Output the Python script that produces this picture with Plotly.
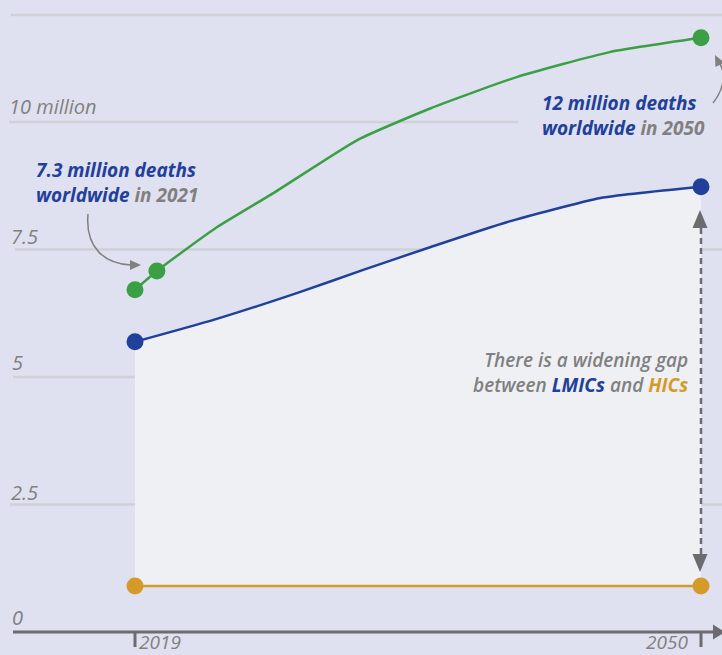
import plotly.graph_objects as go

# ---------------- data ----------------
green_years = [2019, 2020.2, 2023.5, 2026.6, 2031.2, 2035.2, 2039.9, 2045.0, 2050]
green_vals = [6.71, 7.08, 7.94, 8.61, 9.65, 10.27, 10.88, 11.37, 11.65]
green_marker_years = [2019, 2020.2, 2050]
green_marker_vals = [6.71, 7.08, 11.65]

blue_years = [2019, 2023.3, 2027.9, 2031.5, 2035.2, 2039.4, 2044.5, 2050]
blue_vals = [5.69, 6.12, 6.65, 7.10, 7.55, 8.04, 8.51, 8.73]
blue_marker_years = [2019, 2050]
blue_marker_vals = [5.69, 8.73]

gold_years = [2019, 2050]
gold_vals = [0.9, 0.9]

y_ticks = [0, 2.5, 5, 7.5, 10]
y_tick_labels = ["0", "2.5", "5", "7.5", "10 million"]
x_ticks = [2019, 2050]
x_tick_labels = ["2019", "2050"]

# ---------------- style ----------------
W, H = 722, 655
BG = "#e0e1f0"
FILL = "#eff0f3"
GRID = "#cfd0d8"
GREEN = "#3b9f45"
BLUE = "#21409a"
GOLD = "#d49b2b"
GRAY = "#808080"
AXIS = "#6b6b70"
FONT = "Open Sans"

X_RANGE = [2019 - 135 * 31 / 566, 2019 + (W - 135) * 31 / 566]
Y_RANGE = [-(H - 632) / 51, 632 / 51]


def P(px):
    return px / W


def Q(py):
    return 1 - py / H


def tri(tip, direction, length, hw, color):
    dx, dy = direction
    n = (dx * dx + dy * dy) ** 0.5
    dx, dy = dx / n, dy / n
    bx, by = tip[0] - dx * length, tip[1] - dy * length
    px_, py_ = -dy, dx
    pts = [tip, (bx + px_ * hw, by + py_ * hw), (bx - px_ * hw, by - py_ * hw)]
    path = "M {} {} L {} {} L {} {} Z".format(*[v for p in pts for v in (P(p[0]), Q(p[1]))])
    return dict(type="path", xref="paper", yref="paper", path=path,
                fillcolor=color, line=dict(width=0), layer="above")


fig = go.Figure()

# gap area between gold and blue lines (drawn as a shape so gridlines sit on top)
poly_x = list(gold_years) + blue_years[::-1]
poly_y = list(gold_vals) + blue_vals[::-1]
fill_path = "M " + " L ".join(f"{x},{y}" for x, y in zip(poly_x, poly_y)) + " Z"
shapes = [dict(type="path", xref="x", yref="y", path=fill_path,
               fillcolor=FILL, line=dict(width=0), layer="below")]

# gridlines (with their own horizontal extents)
grid_specs = [(12.1, 11, W), (10, 9, 518), (7.5, 15, W), (5, 13, 387), (2.5, 10, W)]
for val, x0, x1 in grid_specs:
    shapes.append(dict(type="line", xref="paper", yref="y", x0=P(x0), x1=P(x1),
                       y0=val, y1=val, line=dict(color=GRID, width=2.5), layer="below"))

# x axis line + ticks + arrow
shapes.append(dict(type="line", xref="paper", yref="y", x0=P(13), x1=P(714), y0=0, y1=0,
                   line=dict(color=AXIS, width=3), layer="above"))
shapes.append(tri((725, 632), (1, 0), 12, 7.5, AXIS))
for xt in x_ticks:
    shapes.append(dict(type="line", xref="x", yref="y", x0=xt, x1=xt, y0=0, y1=-15 / 51,
                       line=dict(color=AXIS, width=3), layer="above"))

# dashed double arrow showing the gap
shapes.append(dict(type="line", xref="x", yref="paper", x0=2050, x1=2050, y0=Q(228), y1=Q(556),
                   line=dict(color=AXIS, width=2.5, dash="6px,4px"), layer="above"))
shapes.append(tri((700, 210), (0, -1), 18, 7.5, AXIS))
shapes.append(tri((700, 572), (0, 1), 18, 7.5, AXIS))

# curved callout arrows
shapes.append(dict(type="path", xref="paper", yref="paper",
                   path=f"M {P(88)},{Q(214)} C {P(85)},{Q(248)} {P(105)},{Q(264)} {P(131)},{Q(265)}",
                   line=dict(color=GRAY, width=1.5), layer="above"))
shapes.append(tri((141, 265), (1, 0), 11, 5, GRAY))
shapes.append(dict(type="path", xref="paper", yref="paper",
                   path=f"M {P(713)},{Q(103)} C {P(722)},{Q(92)} {P(727)},{Q(76)} {P(720)},{Q(64)}",
                   line=dict(color=GRAY, width=1.5), layer="above"))
shapes.append(tri((715, 55), (-4, -8), 11, 5, GRAY))

# ---------------- traces ----------------
fig.add_trace(go.Scatter(x=gold_years, y=gold_vals, mode="lines",
                         line=dict(color=GOLD, width=2.5), hoverinfo="skip"))
fig.add_trace(go.Scatter(x=blue_years, y=blue_vals, mode="lines",
                         line=dict(color=BLUE, width=2.5, shape="spline", smoothing=0.5),
                         hoverinfo="skip"))
fig.add_trace(go.Scatter(x=green_years, y=green_vals, mode="lines",
                         line=dict(color=GREEN, width=2.5, shape="spline", smoothing=0.5),
                         hoverinfo="skip"))
fig.add_trace(go.Scatter(x=gold_years, y=gold_vals, mode="markers",
                         marker=dict(color=GOLD, size=17), hoverinfo="skip"))
fig.add_trace(go.Scatter(x=blue_marker_years, y=blue_marker_vals, mode="markers",
                         marker=dict(color=BLUE, size=17), hoverinfo="skip"))
fig.add_trace(go.Scatter(x=green_marker_years, y=green_marker_vals, mode="markers",
                         marker=dict(color=GREEN, size=17), hoverinfo="skip"))

# ---------------- annotations ----------------
ann = []
label_pos = {0: (10, 617), 2.5: (9, 492), 5: (10, 362), 7.5: (9, 237), 10: (7, 107)}
for v, lab in zip(y_ticks, y_tick_labels):
    lx, ly = label_pos[v]
    ann.append(dict(text=f"<i>{lab}</i>", xref="paper", yref="paper", x=P(lx), y=Q(ly),
                    xanchor="left", yanchor="middle", showarrow=False,
                    font=dict(family=FONT, size=20, color=GRAY)))
ann.append(dict(text=f"<i>{x_tick_labels[0]}</i>", xref="paper", yref="paper", x=P(137), y=Q(642),
                xanchor="left", yanchor="middle", showarrow=False,
                font=dict(family=FONT, size=19, color=GRAY)))
ann.append(dict(text=f"<i>{x_tick_labels[1]}</i>", xref="paper", yref="paper", x=P(690), y=Q(642),
                xanchor="right", yanchor="middle", showarrow=False,
                font=dict(family=FONT, size=19, color=GRAY)))


def block(text, x, yc, anchor, color, weight="normal"):
    ann.append(dict(text=text, xref="paper", yref="paper", x=P(x), y=Q(yc),
                    xanchor=anchor, yanchor="middle", align=anchor, showarrow=False,
                    font=dict(family=FONT, size=19, color=color, weight=weight)))


block(f"<b><i>7.3 million deaths<br>worldwide <span style='color:{GRAY}'>in 2021</span></i></b>",
      34, 182.5, "left", BLUE)
block(f"<b><i>12 million deaths<br>worldwide <span style='color:{GRAY}'>in 2050</span></i></b>",
      540, 115.5, "left", BLUE)
block(f"<i>There is a widening gap<br>between <b><span style='color:{BLUE}'>LMICs</span></b> and "
      f"<b><span style='color:{GOLD}'>HICs</span></b></i>",
      690, 372.5, "right", GRAY, weight=600)

fig.update_layout(
    width=W, height=H,
    margin=dict(l=0, r=0, t=0, b=0, pad=0),
    paper_bgcolor=BG, plot_bgcolor=BG,
    showlegend=False,
    xaxis=dict(range=X_RANGE, visible=False, fixedrange=True),
    yaxis=dict(range=Y_RANGE, visible=False, fixedrange=True),
    shapes=shapes,
    annotations=ann,
)

fig.write_html("out.html", config={"displayModeBar": False},
               post_script="document.body.style.margin='0';document.body.style.background='" + BG + "';")
